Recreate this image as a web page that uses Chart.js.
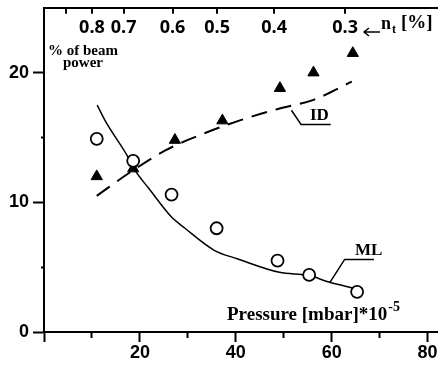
<!DOCTYPE html>
<html>
<head>
<meta charset="utf-8">
<script src="https://cdn.jsdelivr.net/npm/chart.js@4.4.1/dist/chart.umd.min.js"></script>
<style>
  html, body { margin: 0; padding: 0; background: #fff; }
  canvas { display: block; }
</style>
</head>
<body>
<canvas id="lossChart" width="445" height="368"></canvas>
<script>
// measured points: pressure [mbar]*1e-5 vs % of beam power
const mlPressure = [11.0, 18.6, 26.6, 36.0, 48.7, 55.3, 65.3];
const mlPower    = [14.9, 13.2, 10.6, 8.0, 5.5, 4.4, 3.1];
const idPressure = [11.0, 18.6, 27.3, 37.2, 49.2, 56.2, 64.4];
const idPower    = [12.0, 12.6, 14.8, 16.3, 18.8, 20.0, 21.5];

// hand drawn trend curves
const mlFitPressure = [11.1, 12.9, 17.2, 19.1, 21.8, 26.5, 29.4, 35.5, 40.3, 49.1, 55.3, 59.4, 64.9];
const mlFitPower    = [17.5, 16.2, 13.7, 12.4, 11.1, 8.9, 8.0, 6.3, 5.65, 4.6, 4.35, 3.85, 3.35];
const idFitPressure = [11.0, 17.5, 25.3, 33.3, 40.7, 48.8, 56.2, 64.2];
const idFitPower    = [10.5, 12.2, 14.0, 15.3, 16.3, 17.2, 17.9, 19.3];

// label leader lines
const idLeaderPressure = [51.6, 53.6, 59.8];
const idLeaderPower    = [17.1, 16.0, 16.0];
const mlLeaderPressure = [59.6, 62.7, 68.8];
const mlLeaderPower    = [3.8, 5.6, 5.6];

// axes
const xTicks = [0, 10, 20, 30, 40, 50, 60, 70, 80];
const xLabels = [20, 40, 60, 80];
const yTicks = [0, 5, 10, 15, 20];
const yLabels = [0, 10, 20];
const topTickPressure = [4.5, 10.0, 16.6, 26.8, 36.1, 48.0, 62.8];
const topTickLabels = ['', '0.8', '0.7', '0.6', '0.5', '0.4', '0.3'];

const pts = (xs, ys) => xs.map((x, i) => ({ x: x, y: ys[i] }));

const serif = '"Liberation Serif", "Times New Roman", serif';
const narrow = '"Liberation Sans Narrow", "Liberation Sans", Arial, sans-serif';

// no extra padding around the axes, the frame fills the canvas
function noPad(s) {
    s.paddingTop = 0;
    s.paddingBottom = 0;
    s.paddingLeft = 0;
    s.paddingRight = 0;
}

// texte dans le graphique + petits traits de l'axe du haut
const notesPlugin = {
    id: 'notes',
    afterDraw(chart) {
        const ctx = chart.ctx;
        const top = chart.chartArea.top;
        const x2 = chart.scales.x2;
        ctx.save();
        ctx.fillStyle = '#000';
        ctx.strokeStyle = '#000';

        // inward ticks of the top (n_t) axis
        ctx.lineWidth = 2;
        ctx.beginPath();
        topTickPressure.forEach(v => {
            const px = Math.round(x2.getPixelForValue(v));
            ctx.moveTo(px, top);
            ctx.lineTo(px, top + 6);
        });
        ctx.stroke();

        ctx.textBaseline = 'alphabetic';
        ctx.textAlign = 'left';

        ctx.font = 'bold 15px ' + serif;
        ctx.fillText('% of beam', 48, 55);
        ctx.fillText('power', 63, 67);

        ctx.font = 'bold 17px ' + serif;
        ctx.fillText('ID', 310, 120);
        ctx.fillText('ML', 355, 255);

        ctx.font = 'bold 19px ' + serif;
        const p = 'Pressure [mbar]*10';
        ctx.fillText(p, 227, 320);
        const w = ctx.measureText(p).width;
        ctx.font = 'bold 14px ' + serif;
        ctx.fillText('-5', 227 + w + 1, 311);

        // arrow + n_t [%]
        ctx.lineWidth = 1.5;
        ctx.beginPath();
        ctx.moveTo(380, 32);
        ctx.lineTo(364, 32);
        ctx.moveTo(369, 28);
        ctx.lineTo(364, 32);
        ctx.lineTo(369, 36);
        ctx.stroke();
        ctx.font = 'bold 18px ' + serif;
        ctx.fillText('n', 381, 29);
        ctx.font = 'bold 12px ' + serif;
        ctx.fillText('t', 392, 33);
        ctx.font = 'bold 19px ' + serif;
        ctx.fillText('[%]', 401, 28);
        ctx.restore();
    }
};

new Chart(document.getElementById('lossChart').getContext('2d'), {
    type: 'scatter',
    data: {
        datasets: [
            {
                label: 'ML data',
                data: pts(mlPressure, mlPower),
                pointStyle: 'circle',
                pointRadius: 6,
                backgroundColor: '#fff',
                borderColor: '#000',
                borderWidth: 1.8,
                showLine: false
            },
            {
                label: 'ID data',
                data: pts(idPressure, idPower),
                pointStyle: 'triangle',
                pointRadius: 6.5,
                backgroundColor: '#000',
                borderColor: '#000',
                borderWidth: 1,
                showLine: false
            },
            {
                label: 'ML',
                data: pts(mlFitPressure, mlFitPower),
                showLine: true,
                borderColor: '#000',
                borderWidth: 1.5,
                pointRadius: 0,
                cubicInterpolationMode: 'monotone'
            },
            {
                label: 'ID',
                data: pts(idFitPressure, idFitPower),
                showLine: true,
                borderColor: '#000',
                borderWidth: 2,
                borderDash: [16, 9],
                pointRadius: 0,
                cubicInterpolationMode: 'monotone'
            },
            {
                label: 'ID leader',
                data: pts(idLeaderPressure, idLeaderPower),
                showLine: true,
                borderColor: '#000',
                borderWidth: 1.5,
                pointRadius: 0
            },
            {
                label: 'ML leader',
                data: pts(mlLeaderPressure, mlLeaderPower),
                showLine: true,
                borderColor: '#000',
                borderWidth: 1.5,
                pointRadius: 0
            }
        ]
    },
    options: {
        responsive: false,
        animation: false,
        layout: { padding: { right: 2 } },
        plugins: {
            legend: { display: false },
            tooltip: { enabled: false }
        },
        scales: {
            x: {
                type: 'linear',
                position: 'bottom',
                min: 0,
                max: 82,
                afterFit(s) { s.height = 36; noPad(s); },
                afterBuildTicks(s) { s.ticks = xTicks.map(v => ({ value: v })); },
                ticks: {
                    autoSkip: false,
                    maxRotation: 0,
                    padding: 0,
                    color: '#000',
                    font: { family: narrow, size: 18, weight: 'bold' },
                    callback: v => xLabels.includes(v) ? String(v) : ''
                },
                grid: {
                    drawOnChartArea: false,
                    tickLength: 10,
                    tickWidth: 2,
                    tickColor: '#000',
                    tickBorderDash: c => (c.tick && c.tick.value % 20 === 10) ? [5, 100] : []
                },
                border: { color: '#000', width: 2 }
            },
            x2: {
                type: 'linear',
                position: 'top',
                min: 0,
                max: 82,
                afterFit(s) { s.height = 1; noPad(s); },
                afterBuildTicks(s) { s.ticks = topTickPressure.map(v => ({ value: v })); },
                ticks: {
                    autoSkip: false,
                    maxRotation: 0,
                    mirror: true,
                    padding: 9,
                    color: '#000',
                    font: { family: '"Open Sans", sans-serif', size: 18, weight: 'bold' },
                    callback: (v, i) => topTickLabels[i]
                },
                grid: { display: false },
                border: { display: true, color: '#000', width: 2 }
            },
            y: {
                type: 'linear',
                position: 'left',
                min: 0,
                max: 25,
                afterFit(s) { s.width = 44; noPad(s); },
                afterBuildTicks(s) { s.ticks = yTicks.map(v => ({ value: v })); },
                ticks: {
                    padding: 4,
                    color: '#000',
                    font: { family: narrow, size: 18, weight: 'bold' },
                    callback: v => yLabels.includes(v) ? String(v) : ''
                },
                grid: {
                    drawOnChartArea: false,
                    tickLength: 11,
                    tickWidth: 2,
                    tickColor: '#000',
                    tickBorderDash: c => (c.tick && c.tick.value % 10 === 5) ? [5, 100] : [],
                    tickBorderDashOffset: c => (c.tick && c.tick.value % 10 === 5) ? 97 : 0
                },
                border: { color: '#000', width: 2 }
            }
        }
    },
    plugins: [notesPlugin]
});
</script>
</body>
</html>
